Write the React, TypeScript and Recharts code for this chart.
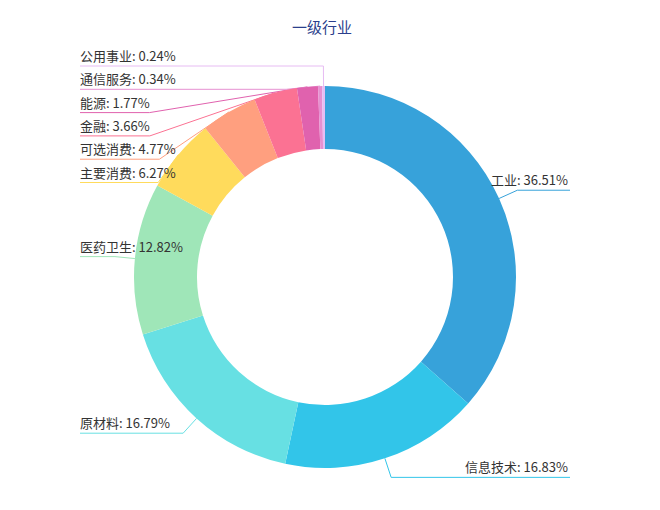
import React from 'react';
import { PieChart, Pie, Cell } from 'recharts';

const industries = ['工业', '信息技术', '原材料', '医药卫生', '主要消费', '可选消费', '金融', '能源', '通信服务', '公用事业'];
const weights = [36.51, 16.83, 16.79, 12.82, 6.27, 4.77, 3.66, 1.77, 0.34, 0.24];
const colors = ['#37a2da', '#32c5e9', '#67e0e3', '#9fe6b8', '#ffdb5c', '#ff9f7f', '#fb7293', '#e062ae', '#e690d1', '#e7bcf3'];

const data = industries.map((name, i) => ({ name, value: weights[i] }));

const CX = 325;
const CY = 277;
const INNER = 128;
const OUTER = 191;
const LINE_LEN = 20;
const LEFT_EDGE = 80;
const RIGHT_EDGE = 570;
const GAP = 23.3;
const MAX_SURFACE = 94; // degrees between first segment and slice normal
const RAD = Math.PI / 180;

// label layout roughly like echarts: elbow at outer+20, labels stacked so they don't overlap
function layoutLabels() {
  const total = weights.reduce((a, b) => a + b, 0);
  let cum = 0;
  const items = weights.map((v, i) => {
    const mid = 90 - (360 * (cum + v / 2)) / total;
    cum += v;
    const cos = Math.cos(mid * RAD);
    const sin = Math.sin(mid * RAD);
    return {
      i,
      mid,
      right: cos >= 0,
      sx: CX + OUTER * cos,
      sy: CY - OUTER * sin,
      ex: CX + (OUTER + LINE_LEN) * cos,
      ey: CY - (OUTER + LINE_LEN) * sin,
    };
  });
  [true, false].forEach((side) => {
    const group = items.filter((d) => d.right === side).sort((a, b) => a.ey - b.ey);
    for (let k = 1; k < group.length; k++) {
      if (group[k].ey < group[k - 1].ey + GAP) group[k].ey = group[k - 1].ey + GAP;
    }
  });
  // if a shifted label pulls the line into the ring, slide the elbow outwards
  items.forEach((d) => {
    const nx = Math.cos(d.mid * RAD);
    const ny = -Math.sin(d.mid * RAD);
    const vx = d.ex - d.sx;
    const vy = d.ey - d.sy;
    const len = Math.hypot(vx, vy) || 1;
    const ang = Math.acos((vx * nx + vy * ny) / len) / RAD;
    if (ang > MAX_SURFACE) {
      const dir = d.right ? 1 : -1;
      // segment direction rotated MAX_SURFACE from the normal, toward label side
      const base = Math.atan2(ny, nx);
      const cands = [base + MAX_SURFACE * RAD, base - MAX_SURFACE * RAD];
      const pick = cands.find((a) => Math.sign(Math.cos(a)) === dir && Math.sin(a) * (d.ey - d.sy) > 0) ?? cands[0];
      const dy = d.ey - d.sy;
      const t = dy / Math.sin(pick);
      d.ex = d.sx + t * Math.cos(pick);
    }
  });
  return items.sort((a, b) => a.i - b.i);
}

const labels = layoutLabels();

const renderLabel = (props: any) => {
  const d = labels[props.index];
  if (!d) return null;
  const text = `${industries[d.i]}: ${weights[d.i].toFixed(2)}%`;
  return (
    <text
      key={`lbl-${d.i}`}
      x={d.right ? RIGHT_EDGE - 2 : LEFT_EDGE}
      y={d.ey - 5}
      textAnchor={d.right ? 'end' : 'start'}
      fontSize={13}
      fill="#333"
      fontFamily="'Noto Sans CJK SC', 'Noto Sans', sans-serif"
    >
      {text}
    </text>
  );
};

export default function App() {
  return (
    <div style={{ position: 'absolute', left: 0, top: 0, width: 660, height: 510, background: '#fff' }}>
      <PieChart width={660} height={510} margin={{ top: 0, right: 0, bottom: 0, left: 0 }}>
        <text
          x={322}
          y={33}
          textAnchor="middle"
          fontSize={15}
          fill="#2b3f8c"
          fontFamily="'Noto Sans CJK SC', sans-serif"
        >
          一级行业
        </text>
        <g className="label-lines">
          {labels.map((d) => (
            <polyline
              key={`line-${d.i}`}
              points={`${d.sx},${d.sy} ${d.ex},${d.ey} ${d.right ? RIGHT_EDGE : LEFT_EDGE},${d.ey}`}
              fill="none"
              stroke={colors[d.i]}
              strokeWidth={1}
            />
          ))}
        </g>
        <Pie
          data={data}
          dataKey="value"
          nameKey="name"
          cx={CX}
          cy={CY}
          innerRadius={INNER}
          outerRadius={OUTER}
          startAngle={90}
          endAngle={-270}
          stroke="none"
          strokeWidth={0}
          label={renderLabel}
          labelLine={false}
          isAnimationActive={false}
        >
          {data.map((d, i) => (
            <Cell key={d.name} fill={colors[i]} />
          ))}
        </Pie>
      </PieChart>
    </div>
  );
}
